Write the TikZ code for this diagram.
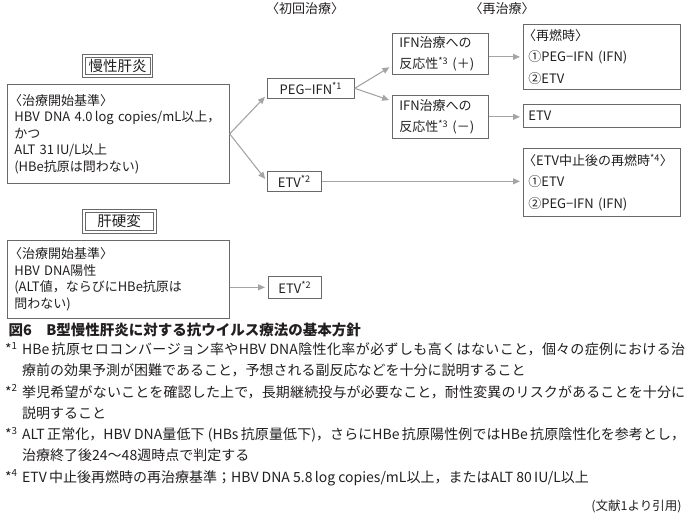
\documentclass[tikz,border=0pt]{standalone}
\usepackage{fontspec}
\setmainfont{Noto Sans CJK JP}
\XeTeXlinebreaklocale "ja"
\XeTeXlinebreakskip=0pt plus 2pt
\definecolor{boxgray}{RGB}{105, 105, 105}
\definecolor{arrowgray}{RGB}{165, 165, 165}
\definecolor{inkblack}{RGB}{35, 31, 32}
\usepackage{tikz}
\usetikzlibrary{arrows.meta, positioning, calc}

\tikzset{
  box/.style={draw=boxgray, line width=0.7pt, anchor=north west, align=left,
    inner ysep=2pt, text=inkblack, font=\fontsize{13}{21.5}\selectfont},
  leftbox/.style={box, inner xsep=7pt, font=\fontsize{13}{16.5}\selectfont},
  headbox/.style={draw=boxgray, line width=0.6pt, inner ysep=1pt,
    text=inkblack, font=\fontsize{14.5}{16}\selectfont},
  rim/.style={draw=boxgray, line width=0.6pt},
  flow/.style={draw=arrowgray, line width=1.1pt, shorten >=3pt,
    -{Triangle[length=7pt, width=6pt]}},
  plain/.style={text=inkblack, font=\fontsize{13}{15}\selectfont}
}

\begin{document}
\begin{tikzpicture}[x=1pt, y=-1pt]
  \useasboundingbox (0, 0) rectangle (690, 523);

  % column headings
  \node[plain] (first) at (305, 9) {〈初回治療〉};
  \node[plain] (second) at (502, 9) {〈再治療〉};

  % chronic hepatitis
  \node[headbox, minimum width=64pt, minimum height=17pt] (chronic) at (117.5, 66) {慢性肝炎};
  \draw[rim] ([shift={(-2.5pt,-2.5pt)}]chronic.south west) rectangle ([shift={(2.5pt,2.5pt)}]chronic.north east);
  \node[leftbox, text width=208pt, minimum height=99pt] (crit1) at (7, 84)
    {\kern-.4em〈治療開始基準〉\\HBV DNA 4.0\,log copies/mL以上，\\かつ\\ALT 31\,IU/L以上\\(HBe抗原は問わない)};

  \node[box, inner xsep=5pt, minimum width=87pt, minimum height=20pt] (peg) at (267, 78) {PEG−IFN\textsuperscript{*1}};
  \node[box, inner xsep=5pt, minimum width=54pt, minimum height=20pt] (etv1) at (267, 171) {ETV\textsuperscript{*2}};

  \node[box, inner xsep=7pt, text width=82pt, minimum height=41pt] (pos) at (392, 33)
    {IFN治療への\\反応性\textsuperscript{*3} (＋)};
  \node[box, inner xsep=7pt, text width=82pt, minimum height=43pt] (neg) at (392, 95)
    {IFN治療への\\反応性\textsuperscript{*3} (－)};

  \node[box, inner xsep=5pt, text width=147pt, minimum height=65pt] (relapse) at (523, 24)
    {\kern-.4em〈再燃時〉\\①PEG−IFN (IFN)\\②ETV};
  \node[box, inner xsep=5pt, text width=147pt, minimum height=23pt] (etv2) at (523, 104) {ETV};
  \node[box, inner xsep=5pt, text width=147pt, minimum height=68pt] (stop) at (523, 148)
    {\kern-.4em〈ETV中止後の再燃時\textsuperscript{*4}〉\\①ETV\\②PEG−IFN (IFN)};

  % cirrhosis
  \node[headbox, minimum width=68pt, minimum height=18pt] (cirrhosis) at (119, 221.5) {肝硬変};
  \draw[rim] ([shift={(-2.5pt,-2.5pt)}]cirrhosis.south west) rectangle ([shift={(2.5pt,2.5pt)}]cirrhosis.north east);
  \node[leftbox, text width=208pt, minimum height=78pt] (crit2) at (7, 240)
    {\kern-.4em〈治療開始基準〉\\HBV DNA陽性\\(ALT値，ならびにHBe抗原は\\問わない)};
  \node[box, inner xsep=5pt, minimum width=53pt, minimum height=22pt] (etv3) at (268, 276) {ETV\textsuperscript{*2}};

  % connectors
  \draw[flow] (crit1.east) -- ([yshift=4pt]peg.south west);
  \draw[flow] (crit1.east) -- (etv1.west);
  \draw[flow] (peg.east) -- ([yshift=9pt]pos.south west);
  \draw[flow] (peg.east) -- ([yshift=-6pt]neg.north west);
  \draw[flow] (relapse.west -| pos.east) -- (relapse.west);
  \draw[flow] (neg.east) -- (neg.east -| etv2.west);
  \draw[flow] (etv1.east) -- (etv1.east -| stop.west);
  \draw[flow] (etv3.west -| crit2.east) -- (etv3.west);

  % caption and notes
  \node[anchor=west, text=inkblack, font=\fontsize{14.5}{17}\selectfont\bfseries] (caption) at (5, 330)
    {図6\quad B型慢性肝炎に対する抗ウイルス療法の基本方針};
  \node[anchor=north west, text width=680pt, align=justify, inner sep=0pt, text=inkblack,
    font=\fontsize{14}{21.3}\selectfont] (notes) at (5, 342)
    {\parindent=0pt
     \hangindent=17pt\hangafter=1\makebox[17pt][l]{*\textsuperscript{1}}HBe\,抗原セロコンバージョン率やHBV DNA陰性化率が必ずしも高くはないこと，個々の症例における治\linebreak 療前の効果予測が困難であること，予想される副反応などを十分に説明すること\par
     \hangindent=17pt\hangafter=1\makebox[17pt][l]{*\textsuperscript{2}}挙児希望がないことを確認した上で，長期継続投与が必要なこと，耐性変異のリスクがあることを十分に\linebreak 説明すること\par
     \hangindent=17pt\hangafter=1\makebox[17pt][l]{*\textsuperscript{3}}ALT\,正常化，HBV DNA量低下 (HBs\,抗原量低下)，さらにHBe\,抗原陽性例ではHBe\,抗原陰性化を参考とし，\linebreak 治療終了後24〜48週時点で判定する\par
     \hangindent=17pt\hangafter=1\makebox[17pt][l]{*\textsuperscript{4}}ETV\,中止後再燃時の再治療基準；HBV DNA 5.8\,log copies/mL以上，またはALT 80\,IU/L以上\par};
  \node[anchor=east, text=inkblack, font=\fontsize{12.5}{15}\selectfont] (source) at (685, 506) {(文献1より引用)};
\end{tikzpicture}
\end{document}
